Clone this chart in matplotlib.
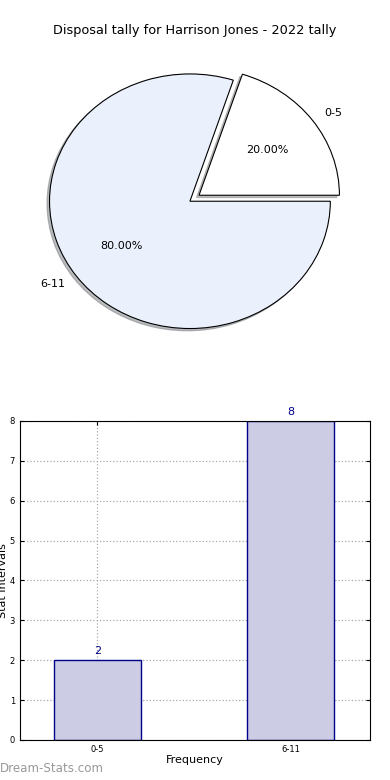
import matplotlib
matplotlib.use('Agg')
import matplotlib.pyplot as plt

player = 'Harrison Jones'
season = '2022'
intervals = ['0-5', '6-11']
counts = [2, 8]
pie_colors = ['#FFFFFF', '#EAF0FC']
bar_face = '#CCCCE5'
bar_edge = '#00008B'

fig = plt.figure(figsize=(3.9, 7.8), dpi=100)

# pie of the share of games in each interval
ax1 = fig.add_axes([0.037, 0.538, 0.9, 0.408])
ax1.pie(counts, labels=intervals, colors=pie_colors, explode=[0.08, 0],
        autopct='%1.2f%%', shadow={'ox': -0.013, 'oy': -0.013, 'shade': 0.5},
        startangle=0,
        wedgeprops={'edgecolor': 'black', 'linewidth': 0.8},
        textprops={'fontsize': 8})
ax1.set_aspect('auto')
ax1.set_xlim(-1.25, 1.25)
ax1.set_ylim(-1.25, 1.25)
fig.text(0.5, 0.961, f'Disposal tally for {player} - {season} tally',
         ha='center', va='center', fontsize=9.3)

# bar chart of the same counts
ax2 = fig.add_axes([0.051, 0.0513, 0.898, 0.409])
x = list(range(len(intervals)))
bars = ax2.bar(x, counts, width=0.45, color=bar_face, edgecolor=bar_edge, linewidth=1, zorder=2)
for b, c in zip(bars, counts):
    ax2.text(b.get_x() + b.get_width() / 2, c + 0.1, str(c), ha='center', va='bottom',
             color=bar_edge, fontsize=8)
ax2.set_xlim(-0.4, 1.41)
ax2.set_ylim(0, 8)
ax2.set_xticks(x)
ax2.set_xticklabels(intervals, fontsize=6)
ax2.set_yticks(range(0, 9))
ax2.tick_params(axis='y', labelsize=6)
ax2.tick_params(direction='in', top=True, right=True, length=3, width=0.8)
ax2.grid(True, linestyle=':', color='#AAAAAA', linewidth=0.9, zorder=0)
ax2.set_axisbelow(True)
ax2.set_xlabel('Frequency', fontsize=8, labelpad=1)
ax2.set_ylabel('Stat Intervals', fontsize=8)
ax2.yaxis.set_label_coords(-0.034, 0.5)

fig.text(0.0, 0.006, 'Dream-Stats.com', color='#999999', fontsize=8.6, ha='left', va='bottom')

fig.savefig('out.png', dpi=100)
